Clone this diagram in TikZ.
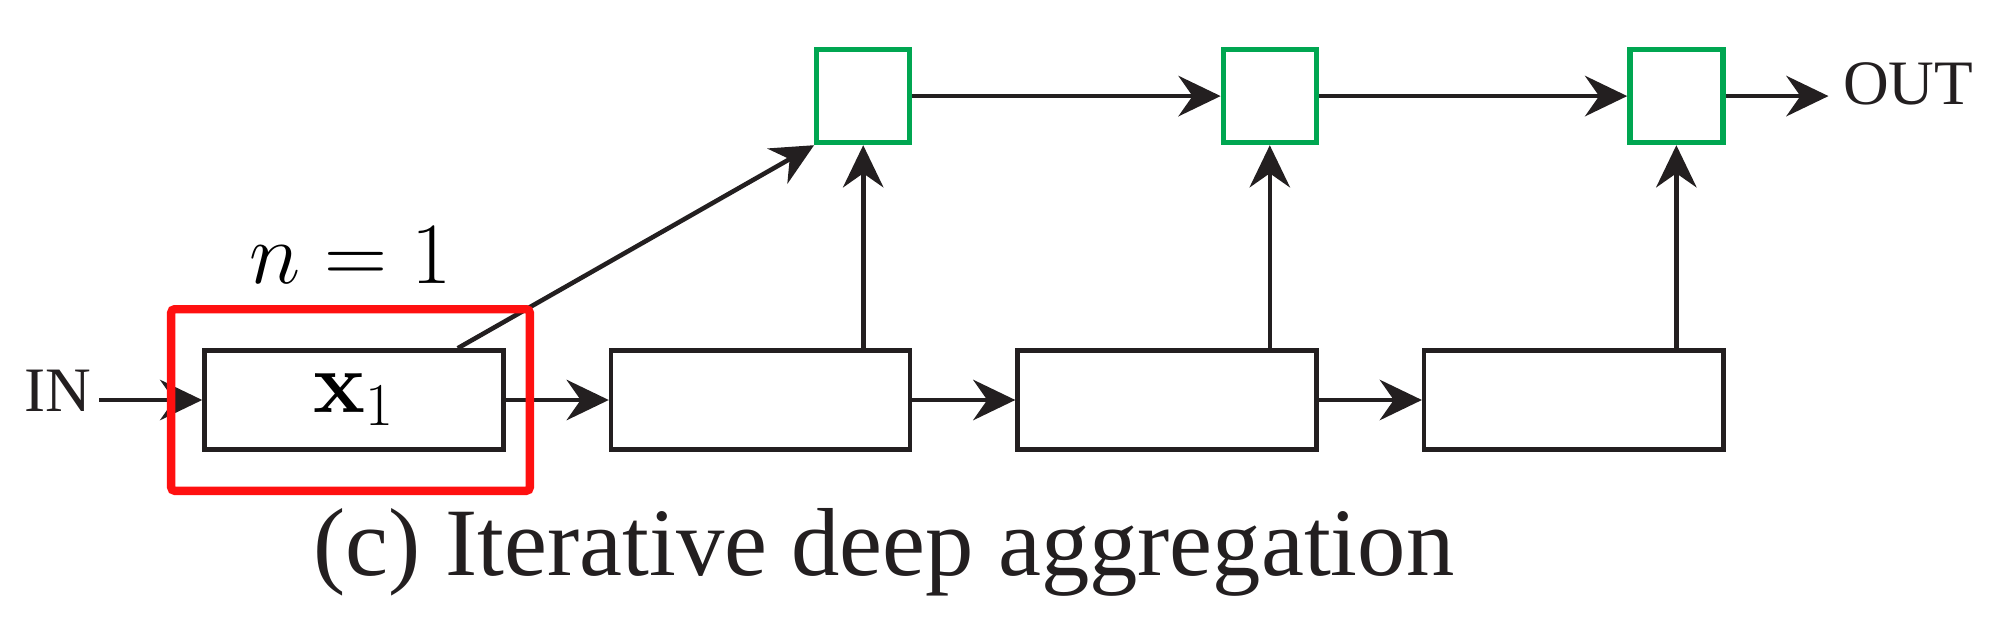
\documentclass[tikz,border=0pt]{standalone}
\usepackage{amsmath}
\usepackage[no-math]{fontspec}
\setmainfont{Liberation Serif}
\usepackage{xcolor}
\usetikzlibrary{arrows.meta, positioning, fit}

\definecolor{lineDark}{RGB}{35,31,32}
\definecolor{aggGreen}{RGB}{0,166,81}
\definecolor{focusRed}{RGB}{255,16,16}

\begin{document}
\begin{tikzpicture}[
    node distance=1.03cm,
    stage/.style={draw=lineDark, rectangle, line width=1.3pt, minimum width=2.99cm, minimum height=0.99cm, inner sep=0pt, font=\fontsize{23}{27}\selectfont},
    agg/.style={draw=aggGreen, rectangle, line width=1.5pt, minimum width=0.93cm, minimum height=0.93cm, inner sep=0pt},
    frame/.style={draw=focusRed, rectangle, line width=2.4pt, rounded corners=1pt, inner xsep=0.275cm, inner ysep=0.39cm},
    port/.style={font=\fontsize{18}{21}\selectfont, text=lineDark, inner sep=2pt},
    arrow/.style={-{Stealth[length=12pt, width=11.5pt, inset=4pt]}, line width=1.3pt, draw=lineDark}
]
\useasboundingbox (0,0) rectangle (20.02,6.43);

% Backbone stages
\node[stage] (x1) at (3.54,2.43) {$\mathbf{x}_1$};
\node[stage, right=of x1] (x2) {};
\node[stage, right=of x2] (x3) {};
\node[stage, right=of x3] (x4) {};

\draw[arrow] (x1) -- (x2);
\draw[arrow] (x2) -- (x3);
\draw[arrow] (x3) -- (x4);

% Aggregation nodes
\node[agg, above=2.03cm of x2.north east, anchor=south east] (g1) {};
\node[agg, above=2.03cm of x3.north east, anchor=south east] (g2) {};
\node[agg, above=2.03cm of x4.north east, anchor=south east] (g3) {};

\draw[arrow] (g1) -- (g2);
\draw[arrow] (g2) -- (g3);
\draw[arrow] ([xshift=-0.48cm]x1.north east) -- (g1.south west);
\draw[arrow] (x2.north -| g1.south) -- (g1.south);
\draw[arrow] (x3.north -| g2.south) -- (g2.south);
\draw[arrow] (x4.north -| g3.south) -- (g3.south);

% Input and output
\node[port, left=of x1.west, anchor=east, yshift=0.09cm] (in) {IN};
\node[port, right=1.03cm of g3.east, anchor=west, yshift=0.12cm, inner sep=4pt] (out) {OUT};
\draw[arrow] (in.east |- x1.west) -- (x1.west);
\draw[arrow] (g3.east) -- (g3.east -| out.west);

% Highlighted first stage
\node[frame, fit=(x1), xshift=-0.035cm] (focus) {};
\node[above=0.21cm of focus, inner sep=0pt, font=\fontsize{23}{27}\selectfont] (nlabel) {$n = 1$};

\node[font=\fontsize{27.5}{33}\selectfont, text=lineDark, anchor=base] (caption) at (8.84,0.68) {(c) Iterative deep aggregation};

\end{tikzpicture}
\end{document}
